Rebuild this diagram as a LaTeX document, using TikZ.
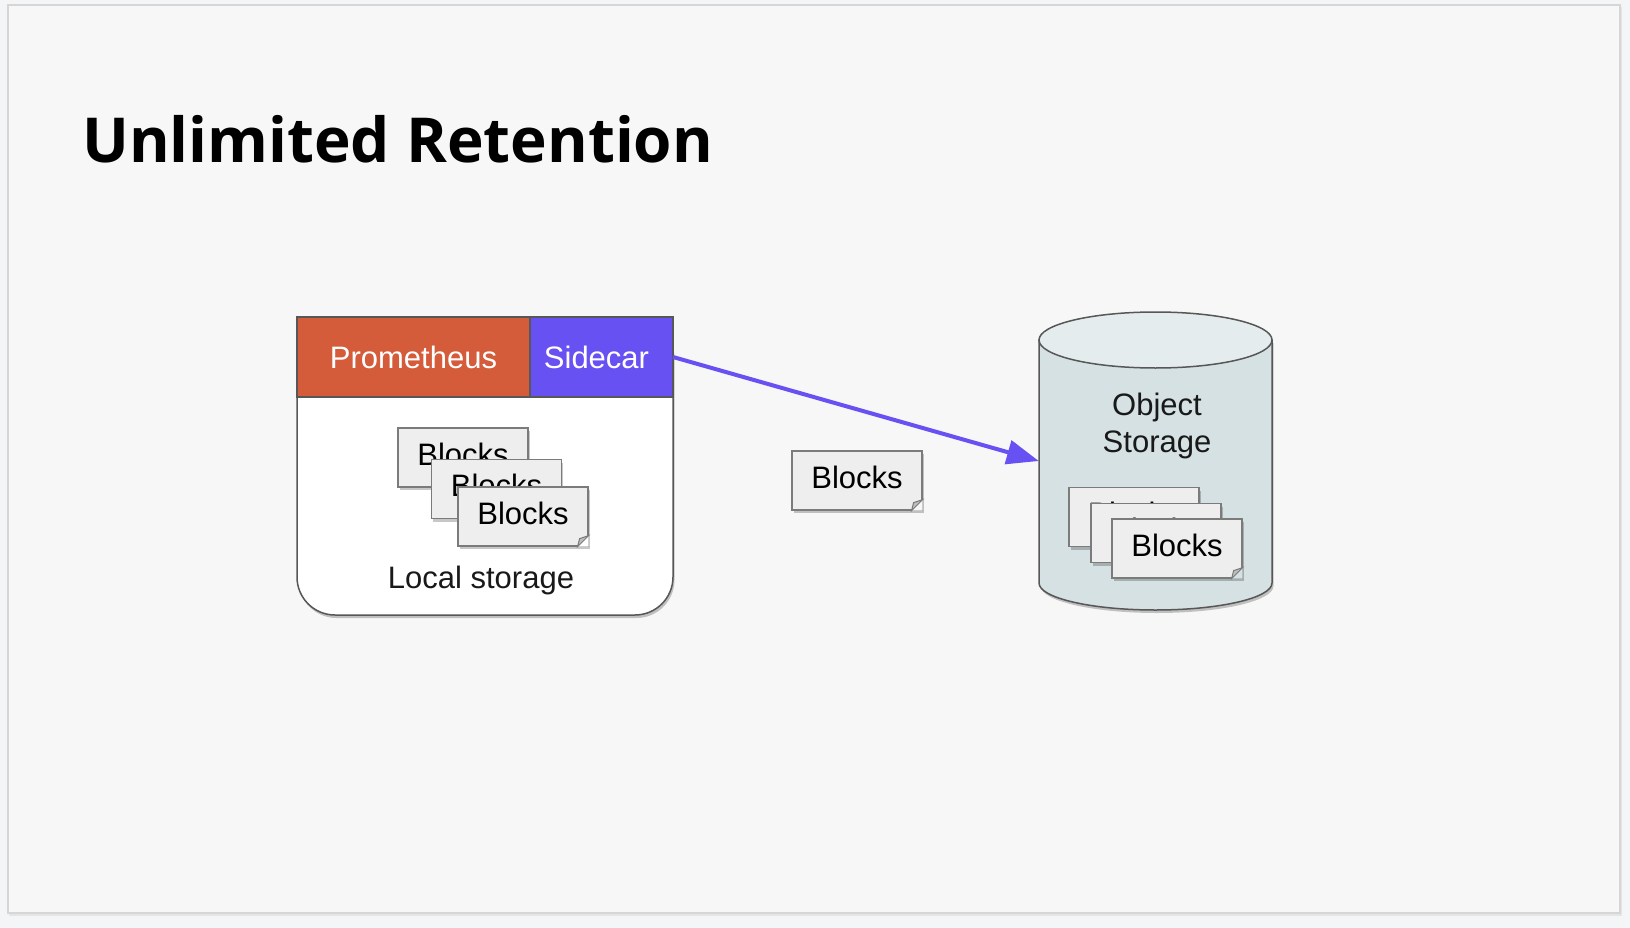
\documentclass[tikz,border=0pt]{standalone}
\usepackage{fontspec}
\setmainfont{Liberation Sans}
\newfontfamily\titlefont{Open Sans}
\usetikzlibrary{positioning}
\usetikzlibrary{arrows.meta, shadows, calc}

\definecolor{outerbg}{HTML}{F4F5F7}
\definecolor{slidebg}{HTML}{F7F7F7}
\definecolor{slideline}{HTML}{D6D6D6}
\definecolor{promorange}{HTML}{D45C3B}
\definecolor{sidepurple}{HTML}{6851F2}
\definecolor{boxline}{HTML}{575757}
\definecolor{blockfill}{HTML}{EEEEEE}
\definecolor{blockline}{HTML}{7B7B7B}
\definecolor{foldgrey}{HTML}{BDBDBD}
\definecolor{cylfill}{HTML}{D5E1E2}
\definecolor{cyltop}{HTML}{E4ECED}

\newcommand{\foldcorner}[2]{%
  \fill[#2] (#1.south east) -- ++(-11,0) -- ++(11,-11) -- cycle;
  \filldraw[fill=foldgrey,draw=blockline,line width=1pt] ($(#1.south east)+(-11,0)$) -- ($(#1.south east)+(-9,-8)$) -- ($(#1.south east)+(0,-11)$) -- cycle;}

\begin{document}
\begin{tikzpicture}[x=1pt,y=-1pt,
  softshadow/.style={drop shadow={shadow xshift=1.5pt,shadow yshift=-3pt,opacity=0.22,fill=black}},
  blockcard/.style={draw=blockline,line width=1.2pt,fill=blockfill,minimum width=130pt,minimum height=59pt,inner sep=0pt,text height=22pt,text depth=7pt,font=\fontsize{31}{37}\selectfont,softshadow},
  headbox/.style={draw=boxline,line width=1.5pt,outer sep=0pt,minimum height=80pt,inner sep=0pt,text=white,font=\fontsize{31}{37}\selectfont},
  lbl/.style={font=\fontsize{31}{37}\selectfont,text=black!90,inner sep=0pt}]
\fill[outerbg] (0,0) rectangle (1630,928);
\fill[black!10] (9,7) rectangle (1622,916);
\draw[fill=slidebg,draw=slideline,line width=1.5pt] (8,5) rectangle (1620,913);
\useasboundingbox (0,0) rectangle (1630,928);

\node[anchor=base west,inner sep=0pt,font=\titlefont\bfseries\fontsize{62}{74}\selectfont] (title) at (82,163) {Unlimited Retention};

\node[draw=boxline,line width=1.5pt,fill=white,rounded corners=38pt,minimum width=376pt,minimum height=298pt,softshadow] (local) at (485,466) {};
\node[headbox,fill=promorange,minimum width=233pt] (prom) at (413.5,357) {Prometheus};
\node[headbox,fill=sidepurple,minimum width=143pt,right=0pt of prom] (side) {Sidecar\kern10pt};

\node[blockcard] (lb1) at (463,457.5) {Blocks};
\node[blockcard] (lb2) at (496.5,489) {Blocks};
\node[blockcard] (lb3) at (523,516.5) {Blocks};
\foldcorner{lb3}{white}
\node[lbl,anchor=base] (locallbl) at (481,588) {Local storage};

\node[blockcard] (moving) at (857,480.5) {Blocks};
\foldcorner{moving}{slidebg}

\draw[draw=boxline,line width=1.5pt,fill=cylfill,softshadow] (1039,340) -- (1039,583) arc[start angle=180,end angle=0,x radius=116.5,y radius=27] -- (1272,340) -- cycle;
\draw[draw=boxline,line width=1.5pt,fill=cyltop] (1155.5,340) ellipse[x radius=116.5,y radius=28];
\node[minimum width=233pt,minimum height=298pt,inner sep=0pt] (store) at (1155.5,461) {};
\node[lbl,align=center] (storelbl) at (1157,425.5) {Object\\Storage};

\node[blockcard] (ob1) at (1134,517) {Blocks};
\node[blockcard] (ob2) at (1156,533) {Blocks};
\node[blockcard] (ob3) at (1177,548.5) {Blocks};
\foldcorner{ob3}{cylfill}

\draw[sidepurple,line width=4pt,-{Triangle[length=32pt,width=24pt]}] (side.east) -- (store.west);
\end{tikzpicture}
\end{document}
